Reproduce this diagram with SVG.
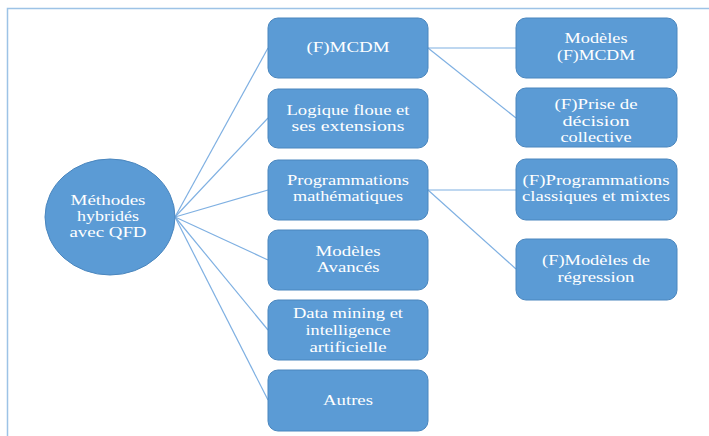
<svg xmlns="http://www.w3.org/2000/svg" width="709" height="436" viewBox="0 0 709 436">
<style>
.box{fill:#5B9BD5;stroke:#4A86BE;stroke-width:1}
.t{font-family:'Liberation Serif','DejaVu Serif','Times New Roman',serif;font-size:14px;fill:#ffffff;text-anchor:middle}
.c{stroke:#7FB0E2;stroke-width:1.2;fill:none}
.frame{stroke:#9DC3E6;stroke-width:1.5;fill:none}
</style>
<rect width="709" height="436" fill="#ffffff"/>
<path class="frame" d="M7.5,436 V8.5 H709"/>
<g id="connectors">
<line class="c" x1="175" y1="217" x2="268" y2="48"/>
<line class="c" x1="175" y1="217" x2="268" y2="118"/>
<line class="c" x1="175" y1="217" x2="268" y2="190"/>
<line class="c" x1="175" y1="217" x2="268" y2="260"/>
<line class="c" x1="175" y1="217" x2="268" y2="330"/>
<line class="c" x1="175" y1="217" x2="268" y2="400"/>
<line class="c" x1="428" y1="48" x2="516" y2="48"/>
<line class="c" x1="428" y1="48" x2="516" y2="118"/>
<line class="c" x1="428" y1="190" x2="516" y2="190"/>
<line class="c" x1="428" y1="190" x2="516" y2="269"/>
</g>
<g id="root">
<ellipse class="box" cx="110" cy="217" rx="65" ry="58"/>
<text class="t" font-family="Liberation Serif, serif" x="108" y="205" textLength="75" lengthAdjust="spacingAndGlyphs">Méthodes</text>
<text class="t" font-family="Liberation Serif, serif" x="108" y="221" textLength="62" lengthAdjust="spacingAndGlyphs">hybridés</text>
<text class="t" font-family="Liberation Serif, serif" x="108" y="237" textLength="77" lengthAdjust="spacingAndGlyphs">avec QFD</text>
</g>
<g id="mcdm">
<rect class="box" x="268" y="18" width="160" height="60" rx="10"/>
<text class="t" x="348" y="52" textLength="83" lengthAdjust="spacingAndGlyphs">(F)MCDM</text>
</g>
<g id="logique">
<rect class="box" x="268" y="89" width="160" height="59" rx="10"/>
<text class="t" x="348" y="115" textLength="123" lengthAdjust="spacingAndGlyphs">Logique floue et</text>
<text class="t" x="348" y="131" textLength="113" lengthAdjust="spacingAndGlyphs">ses extensions</text>
</g>
<g id="programmations">
<rect class="box" x="268" y="160" width="160" height="60" rx="10"/>
<text class="t" x="348" y="185" textLength="122" lengthAdjust="spacingAndGlyphs">Programmations</text>
<text class="t" x="348" y="201" textLength="110" lengthAdjust="spacingAndGlyphs">mathématiques</text>
</g>
<g id="avances">
<rect class="box" x="268" y="230" width="160" height="60" rx="10"/>
<text class="t" x="348" y="256" textLength="65" lengthAdjust="spacingAndGlyphs">Modèles</text>
<text class="t" x="348" y="272" textLength="63" lengthAdjust="spacingAndGlyphs">Avancés</text>
</g>
<g id="datamining">
<rect class="box" x="268" y="300" width="160" height="60" rx="10"/>
<text class="t" x="348" y="318" textLength="110" lengthAdjust="spacingAndGlyphs">Data mining et</text>
<text class="t" x="348" y="335" textLength="85" lengthAdjust="spacingAndGlyphs">intelligence</text>
<text class="t" x="348" y="352" textLength="77" lengthAdjust="spacingAndGlyphs">artificielle</text>
</g>
<g id="autres">
<rect class="box" x="268" y="370" width="160" height="61" rx="10"/>
<text class="t" x="348" y="405" textLength="50" lengthAdjust="spacingAndGlyphs">Autres</text>
</g>
<g id="modeles-mcdm">
<rect class="box" x="516" y="18" width="161" height="60" rx="10"/>
<text class="t" x="596" y="43" textLength="63" lengthAdjust="spacingAndGlyphs">Modèles</text>
<text class="t" x="596" y="60" textLength="78" lengthAdjust="spacingAndGlyphs">(F)MCDM</text>
</g>
<g id="prise-decision">
<rect class="box" x="516" y="88" width="161" height="59" rx="10"/>
<text class="t" x="596" y="109" textLength="83" lengthAdjust="spacingAndGlyphs">(F)Prise de</text>
<text class="t" x="596" y="126" textLength="67" lengthAdjust="spacingAndGlyphs">décision</text>
<text class="t" x="596" y="142" textLength="71" lengthAdjust="spacingAndGlyphs">collective</text>
</g>
<g id="prog-classiques">
<rect class="box" x="516" y="159" width="161" height="61" rx="10"/>
<text class="t" x="596" y="185" textLength="147" lengthAdjust="spacingAndGlyphs">(F)Programmations</text>
<text class="t" x="596" y="201" textLength="148" lengthAdjust="spacingAndGlyphs">classiques et mixtes</text>
</g>
<g id="regression">
<rect class="box" x="516" y="239" width="161" height="61" rx="10"/>
<text class="t" x="596" y="265" textLength="108" lengthAdjust="spacingAndGlyphs">(F)Modèles de</text>
<text class="t" x="596" y="282" textLength="77" lengthAdjust="spacingAndGlyphs">régression</text>
</g>
</svg>
